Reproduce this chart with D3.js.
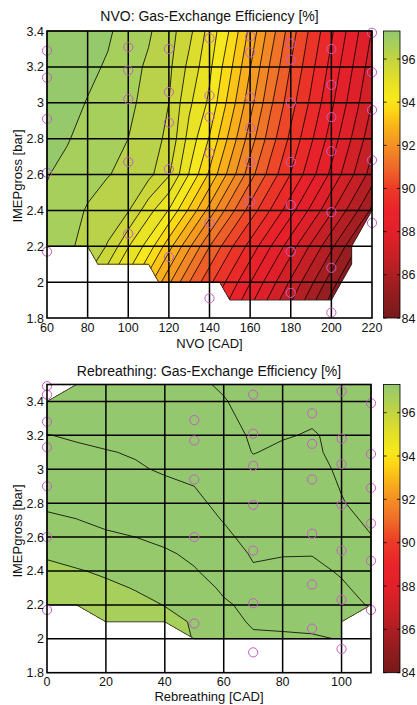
<!DOCTYPE html>
<html>
<head>
<meta charset="utf-8">
<script src="https://cdn.jsdelivr.net/npm/d3@7"></script>
<style>
  body { margin: 0; background: #fff; }
  text { font-family: "Liberation Sans", Arial, Helvetica, sans-serif; fill: #111; }
</style>
</head>
<body>
<svg id="chart" width="417" height="705"></svg>
<script>
// ---------- NVO map: gas-exchange efficiency [%] on an NVO x IMEPgross grid ----------
const nvoCad = [60, 70, 80, 90, 100, 110, 120, 130, 140, 150, 160, 170, 180, 190, 200, 210, 220];
const nvoImep = [1.8, 2.0, 2.2, 2.4, 2.6, 2.8, 3.0, 3.2, 3.4];
const nvoEfficiency = [
  /* 1.8 */ [96.35, 96.00, 95.10, 94.40, 93.30, 92.20, 91.10, 90.20, 89.40, 88.60, 87.80, 87.00, 86.20, 85.30, 84.50, 84.00, 84.00],
  /* 2.0 */ [96.58, 96.32, 95.91, 95.03, 94.29, 93.19, 92.09, 91.01, 90.12, 89.32, 88.52, 87.72, 86.92, 86.11, 85.22, 84.45, 84.00],
  /* 2.2 */ [96.79, 96.59, 96.34, 95.96, 95.03, 94.29, 93.19, 92.09, 91.01, 90.12, 89.32, 88.52, 87.72, 86.92, 86.11, 85.22, 84.45],
  /* 2.4 */ [96.92, 96.74, 96.45, 96.25, 96.04, 95.19, 94.47, 93.41, 92.31, 91.21, 90.29, 89.48, 88.68, 87.88, 87.08, 86.28, 85.39],
  /* 2.6 */ [97.02, 96.88, 96.70, 96.52, 96.38, 96.15, 95.55, 94.47, 93.41, 92.31, 91.21, 90.29, 89.48, 88.68, 87.88, 87.08, 86.28],
  /* 2.8 */ [97.24, 97.03, 96.84, 96.65, 96.50, 96.21, 95.90, 94.82, 93.96, 92.86, 91.76, 90.74, 89.88, 89.08, 88.28, 87.48, 86.68],
  /* 3.0 */ [97.35, 97.20, 96.97, 96.80, 96.60, 96.35, 96.00, 95.10, 94.40, 93.30, 92.20, 91.10, 90.20, 89.40, 88.60, 87.80, 87.00],
  /* 3.2 */ [97.39, 97.31, 97.14, 96.93, 96.66, 96.43, 96.11, 95.37, 94.61, 93.63, 92.53, 91.43, 90.47, 89.64, 88.84, 88.04, 87.24],
  /* 3.4 */ [97.40, 97.38, 97.28, 97.09, 96.72, 96.56, 96.21, 95.64, 94.82, 93.96, 92.86, 91.76, 90.74, 89.88, 89.08, 88.28, 87.48]
];
// operating range covered by measurements (NVO, IMEPgross)
const nvoValidRegion = [[60, 3.4], [220, 3.4], [220, 2.4], [210, 2.2], [210, 2.1], [200, 1.9], [150, 1.9],
  [145, 2.0], [115, 2.0], [110, 2.1], [85, 2.1], [80, 2.2], [60, 2.2]];
// measured operating points
const nvoPoints = [
  [60, 3.29], [60, 3.14], [60, 2.91], [60, 2.61], [60, 2.17],
  [100, 3.31], [100, 3.18], [100, 3.02], [100, 2.67], [100, 2.27],
  [120, 3.30], [120, 3.06], [120, 2.89], [120, 2.63], [120, 2.14],
  [140, 3.36], [140, 3.04], [140, 2.92], [140, 2.72], [140, 2.33], [140, 1.91],
  [160, 3.37], [160, 3.28], [160, 3.03], [160, 2.86], [160, 2.67], [160, 2.45],
  [180, 3.33], [180, 3.24], [180, 3.00], [180, 2.67], [180, 2.43], [180, 2.17], [180, 1.94],
  [200, 3.30], [200, 3.10], [200, 2.92], [200, 2.73], [200, 2.39], [200, 2.08], [200, 1.83],
  [220, 3.39], [220, 3.17], [220, 2.96], [220, 2.68], [220, 2.33]
];

// ---------- Rebreathing map ----------
const rebCad = [0, 10, 20, 30, 40, 50, 60, 70, 80, 90, 100, 110];
const rebImep = [2.0, 2.1, 2.2, 2.3, 2.4, 2.5, 2.6, 2.7, 2.8, 2.9, 3.0, 3.1, 3.2, 3.3, 3.4, 3.5];
const rebEfficiency = [
  /* 2.0 */ [96.40, 96.50, 96.60, 96.70, 96.80, 97.02, 97.30, 97.44, 97.44, 97.45, 97.52, 97.60],
  /* 2.1 */ [96.50, 96.60, 96.70, 96.80, 96.90, 97.03, 97.35, 97.55, 97.58, 97.62, 97.70, 97.85],
  /* 2.2 */ [96.62, 96.70, 96.80, 96.90, 97.01, 97.20, 97.45, 97.60, 97.70, 97.78, 97.88, 98.03],
  /* 2.3 */ [96.75, 96.82, 96.92, 97.02, 97.17, 97.33, 97.56, 97.75, 97.80, 97.85, 97.96, 98.10],
  /* 2.4 */ [96.90, 96.97, 97.06, 97.18, 97.32, 97.47, 97.68, 97.97, 97.90, 97.93, 98.03, 98.15],
  /* 2.5 */ [97.05, 97.15, 97.25, 97.33, 97.44, 97.58, 97.85, 98.03, 98.02, 98.01, 98.10, 98.25],
  /* 2.6 */ [97.33, 97.38, 97.44, 97.50, 97.60, 97.72, 97.95, 98.08, 98.14, 98.20, 98.32, 98.49],
  /* 2.7 */ [97.45, 97.49, 97.58, 97.68, 97.78, 97.90, 98.01, 98.12, 98.22, 98.30, 98.42, 98.55],
  /* 2.8 */ [97.55, 97.62, 97.70, 97.78, 97.86, 97.95, 98.06, 98.20, 98.28, 98.36, 98.49, 98.56],
  /* 2.9 */ [97.70, 97.75, 97.80, 97.86, 97.93, 98.00, 98.15, 98.30, 98.35, 98.42, 98.51, 98.55],
  /* 3.0 */ [97.80, 97.85, 97.90, 97.96, 98.04, 98.14, 98.28, 98.42, 98.40, 98.44, 98.53, 98.57],
  /* 3.1 */ [97.89, 97.94, 97.98, 98.03, 98.12, 98.22, 98.34, 98.51, 98.45, 98.47, 98.55, 98.58],
  /* 3.2 */ [97.99, 98.04, 98.10, 98.17, 98.24, 98.31, 98.41, 98.53, 98.52, 98.48, 98.56, 98.60],
  /* 3.3 */ [98.14, 98.18, 98.22, 98.27, 98.32, 98.38, 98.46, 98.55, 98.56, 98.53, 98.60, 98.64],
  /* 3.4 */ [98.22, 98.26, 98.30, 98.34, 98.38, 98.43, 98.49, 98.56, 98.60, 98.62, 98.65, 98.68],
  /* 3.5 */ [98.30, 98.33, 98.36, 98.40, 98.43, 98.47, 98.52, 98.60, 98.65, 98.70, 98.72, 98.75]
];
const rebValidRegion = [[0, 3.4], [10, 3.5], [110, 3.5], [110, 2.2], [100, 2.1], [100, 2.0], [50, 2.0],
  [40, 2.1], [20, 2.1], [10, 2.2], [0, 2.2]];
const rebPoints = [
  [0, 3.49], [0, 3.44], [0, 3.28], [0, 3.13], [0, 2.90], [0, 2.60], [0, 2.17],
  [50, 3.29], [50, 3.17], [50, 2.94], [50, 2.60], [50, 2.09],
  [70, 3.44], [70, 3.21], [70, 3.02], [70, 2.79], [70, 2.52], [70, 2.21], [70, 1.92],
  [90, 3.33], [90, 3.15], [90, 2.94], [90, 2.62], [90, 2.32], [90, 2.06],
  [100, 3.46], [100, 3.18], [100, 3.03], [100, 2.79], [100, 2.52], [100, 2.23], [100, 1.94],
  [110, 3.39], [110, 3.09], [110, 2.89], [110, 2.68], [110, 2.46], [110, 2.17]
];

// ---------- shared colour scale ----------
const contourLevels = d3.range(84, 99, 0.5);
const colorRange = [84, 97.3];
const colorbarTicks = [84, 86, 88, 90, 92, 94, 96];
const cmapStops  = [84, 85, 86, 87, 88, 89, 90, 91, 92, 93, 93.6, 94.2, 95, 96, 96.75, 97.3];
const cmapColors = ["#761919", "#8f1c1f", "#ac1e23", "#cc2026", "#e2202a", "#e9232a", "#ec3a27", "#ef6a29",
  "#f39023", "#f9b918", "#fcd615", "#f7e81d", "#e4e026", "#c3d43f", "#a6cf5c", "#94c86e"];

const cmap = d3.scaleLinear().domain(cmapStops).range(cmapColors).clamp(true);
const bandColor = t => cmap(Math.min(t + 0.25, colorRange[1]));

const svg = d3.select("#chart");
const fmt = v => String(+v.toFixed(1));

function drawPanel(cfg) {
  const g = svg.append("g");
  const b = cfg.box;
  const x = d3.scaleLinear().domain(cfg.xDomain).range([b.left, b.right]);
  const y = d3.scaleLinear().domain(cfg.yDomain).range([b.bottom, b.top]);

  const nx = cfg.xs.length, ny = cfg.ys.length;
  const sx = cfg.xs[1] - cfg.xs[0], sy = cfg.ys[1] - cfg.ys[0];
  const toData = d3.geoTransform({
    point(px, py) {
      this.stream.point(x(cfg.xs[0] + (px - 0.5) * sx), y(cfg.ys[0] + (py - 0.5) * sy));
    }
  });
  const path = d3.geoPath(toData);
  const bands = d3.contours().size([nx, ny]).thresholds(contourLevels)(cfg.z.flat());

  const region = d3.line().x(d => x(d[0])).y(d => y(d[1]))(cfg.region) + "Z";
  g.append("clipPath").attr("id", cfg.id + "-clip").append("path").attr("d", region);

  const plot = g.append("g").attr("clip-path", `url(#${cfg.id}-clip)`);
  plot.append("path").attr("d", region).attr("fill", bandColor(contourLevels[0] - 0.5));
  plot.selectAll("path.band").data(bands).join("path")
    .attr("class", "band").attr("d", path).attr("fill", d => bandColor(d.value));
  plot.selectAll("path.iso").data(bands).join("path")
    .attr("class", "iso").attr("d", path)
    .attr("fill", "none").attr("stroke", "#000").attr("stroke-width", 0.8);

  g.append("path").attr("d", region).attr("fill", "none")
    .attr("stroke", "#222").attr("stroke-width", 0.8);

  // grid
  const gx = cfg.xTicks.filter(v => v > cfg.xDomain[0] && v < cfg.xDomain[1]);
  const gy = cfg.yTicks.filter(v => v > cfg.yDomain[0] && v < cfg.yDomain[1]);
  g.selectAll("line.gx").data(gx).join("line").attr("class", "gx")
    .attr("x1", d => x(d)).attr("x2", d => x(d)).attr("y1", b.top).attr("y2", b.bottom)
    .attr("stroke", "#000").attr("stroke-width", 1.5);
  g.selectAll("line.gy").data(gy).join("line").attr("class", "gy")
    .attr("y1", d => y(d)).attr("y2", d => y(d)).attr("x1", b.left).attr("x2", b.right)
    .attr("stroke", "#000").attr("stroke-width", 1.5);

  // measured points
  g.selectAll("circle").data(cfg.points).join("circle")
    .attr("cx", d => x(d[0])).attr("cy", d => y(d[1])).attr("r", 4.6)
    .attr("fill", "none").attr("stroke", "#c65cc6").attr("stroke-width", 1);

  g.append("rect").attr("x", b.left).attr("y", b.top)
    .attr("width", b.right - b.left).attr("height", b.bottom - b.top)
    .attr("fill", "none").attr("stroke", "#000").attr("stroke-width", 1.6);

  // tick labels
  g.selectAll("text.xt").data(cfg.xTicks).join("text").attr("class", "xt")
    .attr("x", d => x(d)).attr("y", b.bottom + 13.5).attr("text-anchor", "middle")
    .attr("font-size", 12.5).text(fmt);
  g.selectAll("text.yt").data(cfg.yTicks).join("text").attr("class", "yt")
    .attr("x", b.left - 3).attr("y", d => y(d) + 4.5).attr("text-anchor", "end")
    .attr("font-size", 12.5).text(fmt);

  g.append("text").attr("x", (b.left + b.right) / 2).attr("y", cfg.titleY)
    .attr("text-anchor", "middle").attr("font-size", 14).text(cfg.title);
  g.append("text").attr("x", (b.left + b.right) / 2).attr("y", cfg.xLabelY)
    .attr("text-anchor", "middle").attr("font-size", 13).text(cfg.xLabel);
  g.append("text").attr("transform", `translate(21.5,${cfg.yLabelCenter}) rotate(-90)`)
    .attr("text-anchor", "middle").attr("font-size", 13).text("IMEPgross [bar]");

  // colour bar
  const cb = { left: 383.5, right: 400 };
  const yc = d3.scaleLinear().domain(colorRange).range([b.bottom, b.top]);
  const grad = g.append("linearGradient").attr("id", cfg.id + "-grad")
    .attr("x1", 0).attr("y1", 1).attr("x2", 0).attr("y2", 0);
  grad.selectAll("stop").data(cmapStops).join("stop")
    .attr("offset", d => (d - colorRange[0]) / (colorRange[1] - colorRange[0]))
    .attr("stop-color", d => cmap(d));
  g.append("rect").attr("x", cb.left).attr("y", b.top)
    .attr("width", cb.right - cb.left).attr("height", b.bottom - b.top)
    .attr("fill", `url(#${cfg.id}-grad)`).attr("stroke", "#000").attr("stroke-width", 0.8);
  g.selectAll("line.cbl").data(colorbarTicks).join("line").attr("class", "cbl")
    .attr("x1", cb.left).attr("x2", cb.left + 3).attr("y1", d => yc(d)).attr("y2", d => yc(d))
    .attr("stroke", "#000").attr("stroke-width", 0.8);
  g.selectAll("line.cbr").data(colorbarTicks).join("line").attr("class", "cbr")
    .attr("x1", cb.right - 3).attr("x2", cb.right).attr("y1", d => yc(d)).attr("y2", d => yc(d))
    .attr("stroke", "#000").attr("stroke-width", 0.8);
  g.selectAll("text.cbt").data(colorbarTicks).join("text").attr("class", "cbt")
    .attr("x", cb.right + 1.5).attr("y", d => yc(d) + 4.5)
    .attr("font-size", 12.5).text(d => d);
}

drawPanel({
  id: "nvo",
  box: { left: 47, right: 372, top: 31, bottom: 318 },
  xDomain: [60, 220], yDomain: [1.8, 3.4],
  xTicks: [60, 80, 100, 120, 140, 160, 180, 200, 220],
  yTicks: [1.8, 2.0, 2.2, 2.4, 2.6, 2.8, 3.0, 3.2, 3.4],
  xs: nvoCad, ys: nvoImep, z: nvoEfficiency,
  region: nvoValidRegion, points: nvoPoints,
  title: "NVO: Gas-Exchange Efficiency [%]", titleY: 21,
  xLabel: "NVO [CAD]", xLabelY: 347.5, yLabelCenter: 176
});

drawPanel({
  id: "reb",
  box: { left: 47, right: 371, top: 384.5, bottom: 672.7 },
  xDomain: [0, 110], yDomain: [1.8, 3.5],
  xTicks: [0, 20, 40, 60, 80, 100],
  yTicks: [1.8, 2.0, 2.2, 2.4, 2.6, 2.8, 3.0, 3.2, 3.4],
  xs: rebCad, ys: rebImep, z: rebEfficiency,
  region: rebValidRegion, points: rebPoints,
  title: "Rebreathing: Gas-Exchange Efficiency [%]", titleY: 376,
  xLabel: "Rebreathing [CAD]", xLabelY: 700.5, yLabelCenter: 531
});
</script>
</body>
</html>
